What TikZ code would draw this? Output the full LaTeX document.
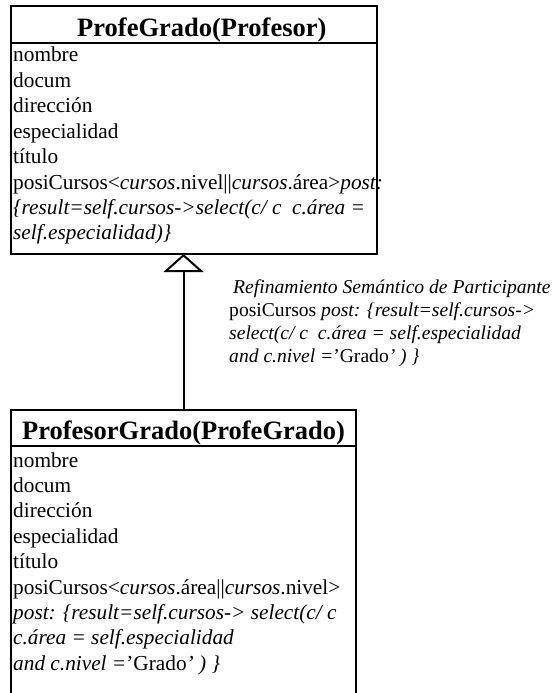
\documentclass[tikz,border=0pt]{standalone}
\usepackage{fontspec}
\setmainfont{Liberation Serif}
\usetikzlibrary{arrows.meta}
\begin{document}
\begin{tikzpicture}[x=1pt,y=-1pt,
  classbox/.style={draw, line width=2pt, anchor=north west, inner sep=0pt, outer sep=0pt},
  sepline/.style={line width=2pt},
  headtxt/.style={inner sep=0pt, font=\fontsize{26.5}{30}\selectfont\bfseries},
  attr/.style={anchor=base west, inner sep=0pt, font=\fontsize{21.3}{25}\selectfont},
  lbl/.style={anchor=base west, inner sep=0pt, font=\fontsize{19.6}{23}\selectfont},
  gen/.style={line width=2pt, -{Triangle[open, length=18pt, width=40pt, line width=2pt]}}]
\useasboundingbox (0,0) rectangle (559,693);
\clip (0,0) rectangle (559,693);
% top class
\node[classbox, minimum width=366pt, minimum height=248pt] (top) at (11,6) {};
\coordinate (tsep) at (11,43);
\draw[sepline] (tsep) -- (tsep -| top.east);
\node[headtxt, anchor=base west] (thead) at (77,37) {ProfeGrado(Profesor)};
\node[attr] (t1) at (13,62) {nombre};
\node[attr] (t2) at (13,87.4) {docum};
\node[attr] (t3) at (13,112.8) {dirección};
\node[attr] (t4) at (13,138.2) {especialidad};
\node[attr] (t5) at (13,163.6) {título};
\node[attr] (t6) at (13,189) {posiCursos<\textit{cursos}.nivel||\textit{cursos}.área>\textit{post:}};
\node[attr] (t7) at (13,214.4) {\textit{\{result=self.cursos->select(c/ c\ \ c.área =}};
\node[attr] (t8) at (13,239.8) {\textit{self.especialidad)\}}};
% bottom class
\node[classbox, minimum width=345pt, minimum height=320pt] (bot) at (11,410) {};
\coordinate (bsep) at (11,446);
\draw[sepline] (bsep) -- (bsep -| bot.east);
\node[headtxt, anchor=base] (bhead) at (183.5,439) {ProfesorGrado(ProfeGrado)};
\node[attr] (b1) at (13,467) {nombre};
\node[attr] (b2) at (13,492.4) {docum};
\node[attr] (b3) at (13,517.8) {dirección};
\node[attr] (b4) at (13,543.2) {especialidad};
\node[attr] (b5) at (13,568.6) {título};
\node[attr] (b6) at (13,594) {posiCursos<\textit{cursos}.área||\textit{cursos}.nivel>};
\node[attr] (b7) at (13,619.4) {\textit{post: \{result=self.cursos-> select(c/ c}};
\node[attr] (b8) at (13,644.8) {\textit{c.área = self.especialidad}};
\node[attr] (b9) at (13,670.2) {\textit{and c.nivel =}’Grado\textit{’ ) \}}};
% generalization
\draw[gen] (bot.north) -- (bot.north |- top.south);
% label
\node[lbl] (r1) at (233,293) {\textit{Refinamiento Semántico de Participante}};
\node[lbl] (r2) at (229,316) {posiCursos \textit{post: \{result=self.cursos->}};
\node[lbl] (r3) at (229,339) {\textit{select(c/ c\ \ c.área = self.especialidad}};
\node[lbl] (r4) at (229,362) {\textit{and c.nivel =}’Grado\textit{’ ) \}}};
\end{tikzpicture}
\end{document}
